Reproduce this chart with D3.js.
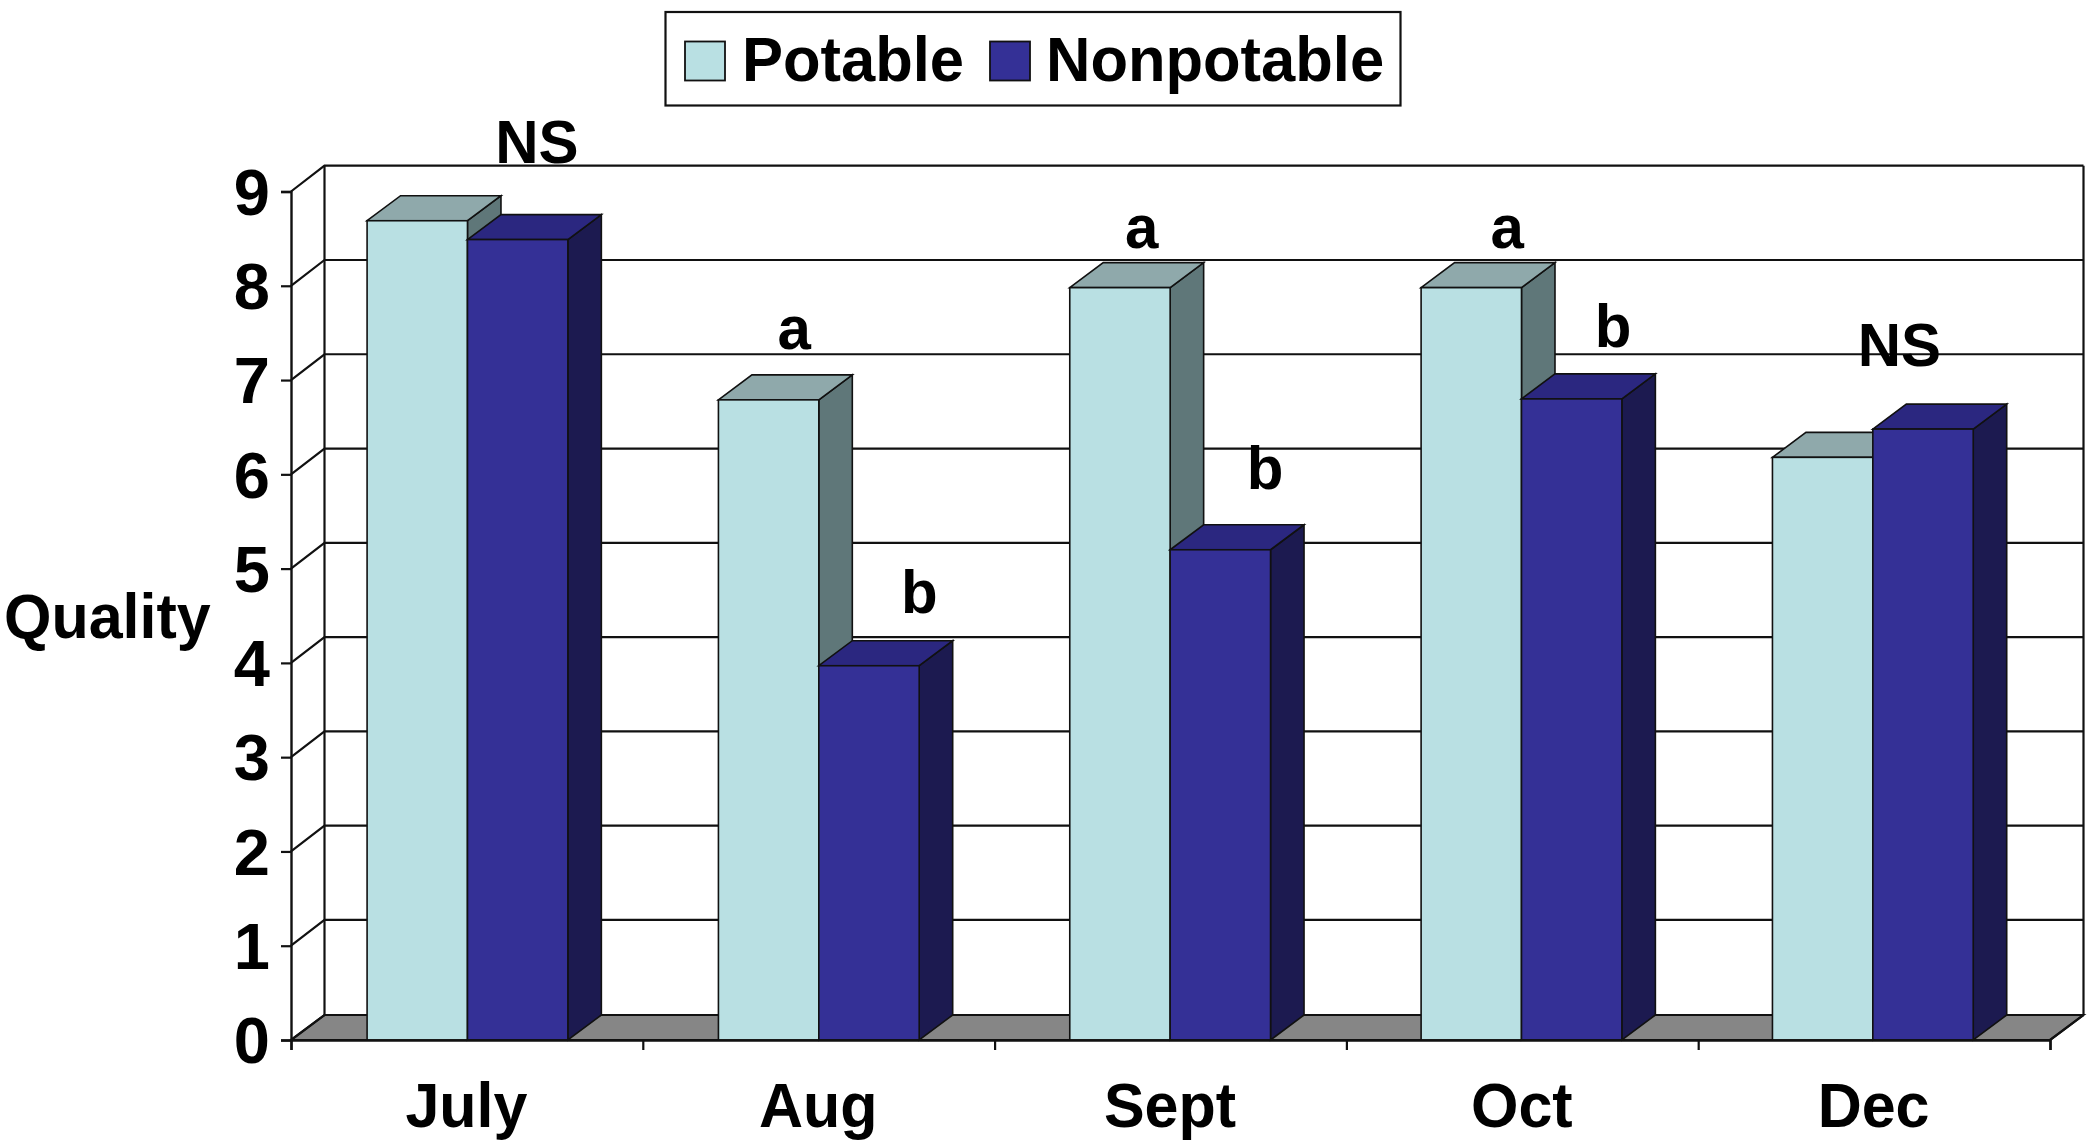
<!DOCTYPE html>
<html>
<head>
<meta charset="utf-8">
<script src="https://cdn.jsdelivr.net/npm/d3@7"></script>
<style>
html,body{margin:0;padding:0;background:#fff}
svg{display:block}
text{font-family:"Liberation Sans",Arial,sans-serif;font-weight:700;fill:#000}
</style>
</head>
<body>
<svg id="c" width="2089" height="1147"></svg>
<script>
const categories = ["July","Aug","Sept","Oct","Dec"];
const seriesNames = ["Potable","Nonpotable"];
const potable = [8.69,6.79,7.98,7.98,6.18];
const nonpotable = [8.49,3.97,5.2,6.8,6.48];
const yTicks = [0,1,2,3,4,5,6,7,8,9];
const sigText = ["NS","a","b","a","b","a","b","NS"];
const sigCategoryPos = [0.699,1.430,1.786,2.418,2.769,3.457,3.758,4.572];
const sigValue = [9.3,7.33,4.53,8.4,5.84,8.4,7.35,7.15];

const faceColors = ["#b9e0e3","#343096"];
const topColors = ["#8fa9ab","#2b2780"];
const sideColors = ["#5f7779","#1c1a50"];
const ink = "#111";

const W = 2089, H = 1147;
const left = 291, right = 2050, bottom = 1040, topY = 191.5;
const dx = 33.5, dy = 25, gridDy = 25.8;
const svg = d3.select("#c");

const x = d3.scaleBand().domain(categories).range([left+0.8,right-1.5]).paddingInner(1.5/3.5).paddingOuter(0.75/3.5);
const xSeries = d3.scaleBand().domain(seriesNames).range([0,x.bandwidth()]);
const xPos = d3.scaleLinear().domain([0,categories.length]).range([left,right]);
const y = d3.scaleLinear().domain([0,9]).range([bottom,topY]);
const line = d3.line();
const stretch = "scale(1,1.03)";

// floor
svg.append("path")
  .attr("d", line([[left,y(0)],[right,y(0)],[right+dx,y(0)-dy],[left+dx,y(0)-dy]])+"Z")
  .attr("fill","#868686").attr("stroke",ink).attr("stroke-width",2);

// back wall gridlines and side wall diagonals
const grid = svg.append("g").attr("fill","none").attr("stroke",ink).attr("stroke-width",2.2);
grid.selectAll("path.g").data(yTicks).join("path").attr("class","g")
  .attr("d",v=>line([[left,y(v)],[left+dx,y(v)-(v?gridDy:dy)],[right+dx,y(v)-(v?gridDy:dy)]]));
grid.append("path").attr("d",line([[left+dx,y(0)-dy],[left+dx,y(9)-gridDy]]));
grid.append("path").attr("d",line([[right+dx,y(0)-dy],[right+dx,y(9)-gridDy]]));
grid.append("path").attr("d",line([[right,y(0)],[right+dx,y(0)-dy]]));

// bars
const bars = svg.append("g");
[potable,nonpotable].forEach((vals,s)=>{
  const name = seriesNames[s];
  const g = bars.append("g").attr("stroke",ink).attr("stroke-width",1.6).attr("stroke-linejoin","miter");
  const b = g.selectAll("g").data(categories.map((c,i)=>({c,v:vals[i]}))).join("g");
  const xl = d=>x(d.c)+xSeries(name), xr = d=>xl(d)+xSeries.bandwidth();
  b.append("path").attr("fill",sideColors[s])
    .attr("d",d=>line([[xr(d),y(d.v)],[xr(d)+dx,y(d.v)-dy],[xr(d)+dx,y(0)-dy],[xr(d),y(0)]])+"Z");
  b.append("path").attr("fill",topColors[s])
    .attr("d",d=>line([[xl(d),y(d.v)],[xl(d)+dx,y(d.v)-dy],[xr(d)+dx,y(d.v)-dy],[xr(d),y(d.v)]])+"Z");
  b.append("rect").attr("fill",faceColors[s])
    .attr("x",xl).attr("y",d=>y(d.v)).attr("width",xSeries.bandwidth()).attr("height",d=>y(0)-y(d.v));
});

// axes
const yAxis = svg.append("g").attr("transform",`translate(${left},0)`)
  .call(d3.axisLeft(y).tickValues(yTicks).tickFormat(d3.format("d")).tickSize(10).tickPadding(11));
const xAxis = svg.append("g").attr("transform",`translate(0,${bottom})`)
  .call(d3.axisBottom(xPos).tickValues(d3.range(categories.length+1)).tickFormat("").tickSize(10));
[yAxis,xAxis].forEach(a=>{
  a.selectAll("path.domain").attr("stroke",ink).attr("stroke-width",2.4);
  a.selectAll("line").attr("stroke",ink).attr("stroke-width",2.2);
});
yAxis.selectAll("text").style("font-size","65px").attr("fill","#000").attr("dy","0.35em");

// category labels
svg.append("g").selectAll("text").data(categories).join("text")
  .attr("text-anchor","middle").style("font-size","61px")
  .attr("transform",(d,i)=>`translate(${xPos(i+0.5)-0.5},1127) ${stretch}`)
  .text(d=>d);

// y axis title
svg.append("text").style("font-size","61px").attr("transform",`translate(4,638) ${stretch}`).text("Quality");

// significance letters
svg.append("g").selectAll("text").data(sigText).join("text")
  .attr("text-anchor","middle").style("font-size","60px")
  .attr("transform",(d,i)=>`translate(${xPos(sigCategoryPos[i])},${y(sigValue[i])}) ${stretch}`)
  .text(d=>d);

// legend
const legend = svg.append("g");
legend.append("rect").attr("x",665.5).attr("y",12).attr("width",735).attr("height",93.5)
  .attr("fill","#fff").attr("stroke",ink).attr("stroke-width",2.2);
const legendX = [685,990];
const lg = legend.selectAll("g").data(seriesNames).join("g");
lg.append("rect").attr("x",(d,i)=>legendX[i]).attr("y",41.5).attr("width",40).attr("height",39)
  .attr("fill",(d,i)=>faceColors[i]).attr("stroke",ink).attr("stroke-width",1.8);
lg.append("text").style("font-size","61.5px")
  .attr("transform",(d,i)=>`translate(${legendX[i]+(i?56:57)},81) ${stretch}`)
  .text(d=>d);
</script>
</body>
</html>
